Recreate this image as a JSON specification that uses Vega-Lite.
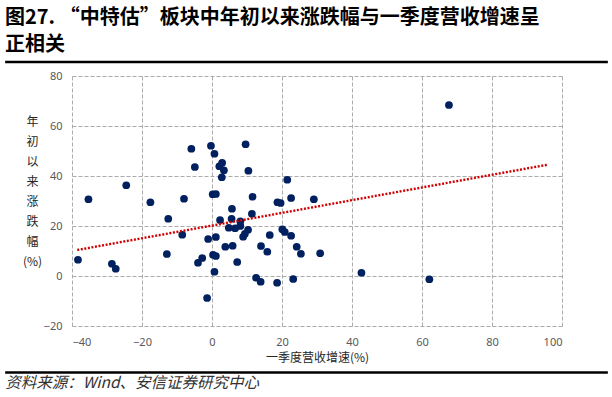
{
  "$schema": "https://vega.github.io/schema/vega-lite/v6.json",
  "width": 490,
  "height": 250,
  "autosize": {"type": "none"},
  "padding": {"left": 72, "top": 76, "right": 50, "bottom": 71},
  "background": "white",
  "config": {"view": {"stroke": null}, "font": "Noto Sans CJK SC"},
  "title": {
    "text": ["图27. “中特估”板块中年初以来涨跌幅与一季度营收增速呈", "正相关"],
    "anchor": "start",
    "frame": "group",
    "dx": -67,
    "offset": 6,
    "fontSize": 20,
    "fontWeight": "bold",
    "lineHeight": 27,
    "color": "#000000",
    "font": "Noto Sans CJK SC"
  },
  "datasets": {
    "points": [
      {"rev": -0.3, "ret": 52.1}, {"rev": -5.9, "ret": 50.9}, {"rev": 0.7, "ret": 48.9},
      {"rev": 2.9, "ret": 45.3}, {"rev": 2.1, "ret": 43.9}, {"rev": 3.4, "ret": 42.3},
      {"rev": -4.9, "ret": 43.6}, {"rev": 2.8, "ret": 39.5}, {"rev": -24.5, "ret": 36.3},
      {"rev": -35.3, "ret": 30.7}, {"rev": -17.6, "ret": 29.5}, {"rev": -8.0, "ret": 30.9},
      {"rev": 0.2, "ret": 32.7}, {"rev": 1.1, "ret": 32.8}, {"rev": 5.7, "ret": 26.9},
      {"rev": -12.5, "ret": 22.9}, {"rev": 2.3, "ret": 22.4}, {"rev": 5.6, "ret": 22.9},
      {"rev": 4.8, "ret": 19.3}, {"rev": 6.6, "ret": 19.1}, {"rev": 8.1, "ret": 20.0},
      {"rev": 8.1, "ret": 21.9}, {"rev": -8.5, "ret": 16.5}, {"rev": -1.1, "ret": 14.8},
      {"rev": 1.1, "ret": 15.6}, {"rev": 3.8, "ret": 11.7}, {"rev": 5.9, "ret": 12.1},
      {"rev": -38.3, "ret": 6.5}, {"rev": -28.6, "ret": 4.9}, {"rev": -27.5, "ret": 2.9},
      {"rev": -12.9, "ret": 8.8}, {"rev": -4.0, "ret": 5.3}, {"rev": -2.8, "ret": 7.2},
      {"rev": 0.3, "ret": 8.5}, {"rev": 1.1, "ret": 8.0}, {"rev": 7.2, "ret": 5.6},
      {"rev": 0.7, "ret": 1.7}, {"rev": -1.4, "ret": -8.8}, {"rev": 9.6, "ret": 52.7},
      {"rev": 10.4, "ret": 42.1}, {"rev": 21.5, "ret": 38.5}, {"rev": 11.6, "ret": 31.7},
      {"rev": 22.6, "ret": 31.2}, {"rev": 29.1, "ret": 30.7}, {"rev": 18.7, "ret": 29.5},
      {"rev": 19.6, "ret": 29.2}, {"rev": 11.4, "ret": 24.9}, {"rev": 10.3, "ret": 18.5},
      {"rev": 9.4, "ret": 16.9}, {"rev": 8.9, "ret": 15.7}, {"rev": 16.5, "ret": 16.4},
      {"rev": 20.1, "ret": 18.7}, {"rev": 20.8, "ret": 17.6}, {"rev": 22.6, "ret": 16.1},
      {"rev": 14.0, "ret": 12.0}, {"rev": 24.2, "ret": 11.7}, {"rev": 15.8, "ret": 9.7},
      {"rev": 25.4, "ret": 8.9}, {"rev": 30.9, "ret": 9.1}, {"rev": 12.6, "ret": -0.7},
      {"rev": 13.9, "ret": -2.3}, {"rev": 18.6, "ret": -2.7}, {"rev": 23.2, "ret": -1.2},
      {"rev": 67.7, "ret": 68.4}, {"rev": 42.7, "ret": 1.3}, {"rev": 62.1, "ret": -1.3}
    ],
    "trend": [
      {"rev": -38.5, "ret": 10.4},
      {"rev": 95.8, "ret": 44.5}
    ]
  },
  "layer": [
    {
      "data": {"name": "points"},
      "mark": {"type": "circle", "size": 60, "color": "#002060", "opacity": 1},
      "encoding": {
        "x": {
          "field": "rev",
          "type": "quantitative",
          "scale": {"domain": [-40, 100], "nice": false, "zero": false},
          "axis": {
            "title": "一季度营收增速(%)",
            "values": [-40, -20, 0, 20, 40, 60, 80, 100],
            "grid": true,
            "gridDash": [4, 2],
            "gridColor": "#ababab",
            "gridWidth": 1,
            "domain": false,
            "ticks": false,
            "labelPadding": 10,
            "labelFontSize": 11,
            "labelColor": "#595959",
            "labelFont": "Noto Sans",
            "titleFontSize": 12,
            "titleFontWeight": "normal",
            "titleColor": "#262626",
            "titlePadding": 5,
            "titleFont": "Noto Sans CJK SC"
          }
        },
        "y": {
          "field": "ret",
          "type": "quantitative",
          "scale": {"domain": [-20, 80], "nice": false, "zero": false},
          "axis": {
            "title": ["年", "初", "以", "来", "涨", "跌", "幅", "(%)"],
            "values": [-20, 0, 20, 40, 60, 80],
            "grid": true,
            "gridDash": [4, 2],
            "gridColor": "#ababab",
            "gridWidth": 1,
            "domain": false,
            "ticks": false,
            "labelPadding": 10,
            "labelFontSize": 11,
            "labelColor": "#595959",
            "labelFont": "Noto Sans",
            "titleAngle": 0,
            "titleAlign": "center",
            "titleBaseline": "top",
            "titleX": -40,
            "titleY": 40,
            "titleLineHeight": 20,
            "titleFontSize": 12,
            "titleFontWeight": "normal",
            "titleColor": "#262626",
            "titleFont": "Noto Sans CJK SC"
          }
        }
      }
    },
    {
      "data": {"name": "trend"},
      "mark": {"type": "line", "color": "#d00000", "strokeWidth": 2.4, "strokeDash": [2, 1.6]},
      "encoding": {
        "x": {"field": "rev", "type": "quantitative"},
        "y": {"field": "ret", "type": "quantitative"}
      }
    },
    {
      "data": {"values": [{"sep": "top"}]},
      "mark": {"type": "rule", "color": "#000000", "strokeWidth": 2.5, "clip": false},
      "encoding": {
        "x": {"datum": -59.1, "type": "quantitative"},
        "x2": {"datum": 113.1},
        "y": {"datum": 85.6, "type": "quantitative"}
      }
    },
    {
      "data": {"values": [{"sep": "bottom"}]},
      "mark": {"type": "rule", "color": "#000000", "strokeWidth": 2.5, "clip": false},
      "encoding": {
        "x": {"datum": -59.1, "type": "quantitative"},
        "x2": {"datum": 113.1},
        "y": {"datum": -38.6, "type": "quantitative"}
      }
    },
    {
      "data": {"values": [{"source": "资料来源：Wind、安信证券研究中心"}]},
      "mark": {"type": "text", "align": "left", "baseline": "middle", "fontSize": 15.5, "fontStyle": "italic", "color": "#333333", "font": "Noto Sans CJK SC", "clip": false},
      "encoding": {
        "x": {"datum": -59.1, "type": "quantitative"},
        "y": {"datum": -42.8, "type": "quantitative"},
        "text": {"field": "source"}
      }
    }
  ]
}
